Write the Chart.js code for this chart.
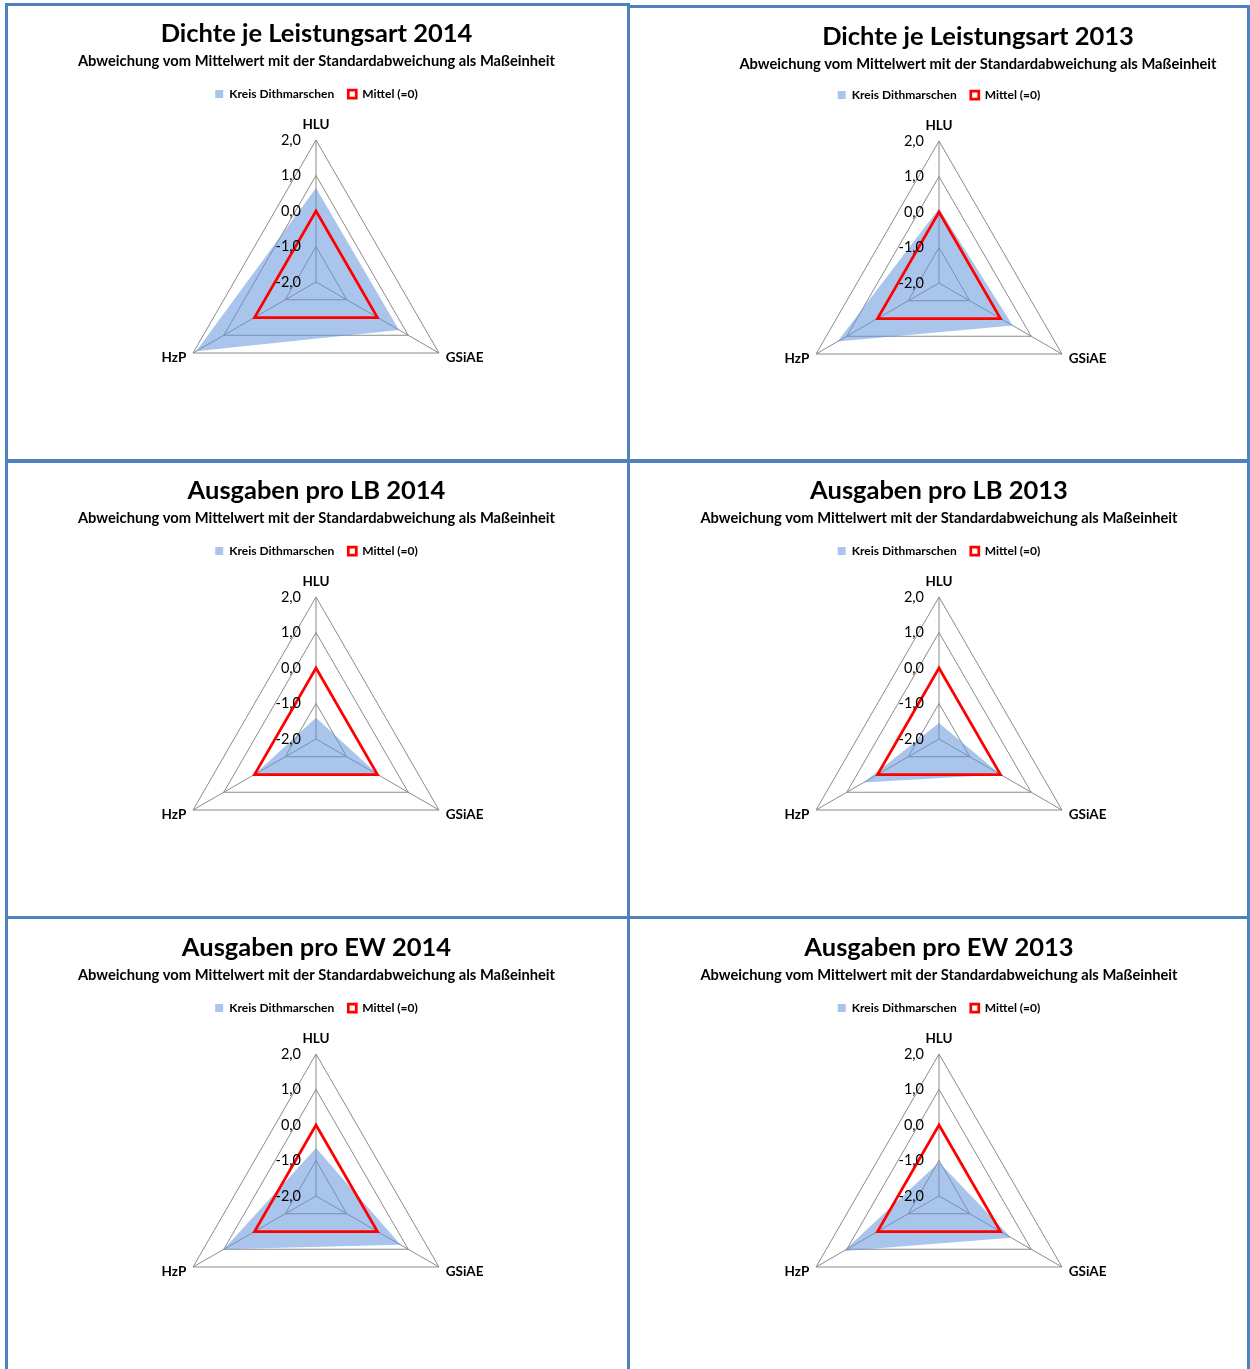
<!DOCTYPE html>
<html>
<head>
<meta charset="utf-8">
<script src="https://cdn.jsdelivr.net/npm/chart.js@4.4.0/dist/chart.umd.min.js"></script>
<style>
  html, body { margin: 0; padding: 0; background: #fff; width: 1250px; height: 1369px; overflow: hidden; }
  .panel { position: absolute; border: 3px solid #4f81bd; box-sizing: border-box; }
  canvas { position: absolute; }
</style>
</head>
<body>
<div class="panel" style="left:5px;top:3px;width:625px;height:460px"></div>
<div class="panel" style="left:5px;top:459px;width:625px;height:460px"></div>
<div class="panel" style="left:5px;top:916px;width:625px;height:500px"></div>
<div class="panel" style="left:627px;top:5px;width:623px;height:458px"></div>
<div class="panel" style="left:627px;top:459px;width:623px;height:460px"></div>
<div class="panel" style="left:627px;top:916px;width:623px;height:500px"></div>

<canvas id="dichte2014" width="617" height="452" style="left:8px;top:6px"></canvas>
<canvas id="dichte2013" width="616" height="452" style="left:631px;top:7px"></canvas>
<canvas id="lb2014" width="617" height="452" style="left:8px;top:463px"></canvas>
<canvas id="lb2013" width="616" height="452" style="left:631px;top:463px"></canvas>
<canvas id="ew2014" width="617" height="452" style="left:8px;top:920px"></canvas>
<canvas id="ew2013" width="616" height="452" style="left:631px;top:920px"></canvas>

<script>
// Axes of every radar (clockwise from the top)
const categories = ['HLU', 'GSiAE', 'HzP'];

// Deviation from the mean, in standard deviations (HLU, GSiAE, HzP)
const dichte2014 = [0.65, 0.70, 1.90];
const dichte2013 = [0.10, 0.40, 1.30];
const lb2014     = [-1.40, 0.05, 0.00];
const lb2013     = [-1.55, 0.00, 0.45];
const ew2014     = [-0.65, 0.75, 1.00];
const ew2013     = [-1.05, 0.35, 1.10];
const mittel     = [0, 0, 0];

// Radial tick values and their German labels
const tickValues = [-2, -1, 0, 1, 2];
const tickLabels = ['-2,0', '-1,0', '0,0', '1,0', '2,0'];

const seriesName = 'Kreis Dithmarschen';
const meanName = 'Mittel (=0)';
const subtitleText = 'Abweichung vom Mittelwert mit der Standardabweichung als Maßeinheit';

Chart.defaults.font.family = 'Lato';
Chart.defaults.color = '#000';

// Tick labels sit to the left of the vertical axis, right-aligned
const tickLabelsLeft = {
  id: 'tickLabelsLeft',
  afterDatasetsDraw(chart) {
    const s = chart.scales.r;
    const ctx = chart.ctx;
    ctx.save();
    ctx.font = '14.5px Lato';
    ctx.fillStyle = '#000';
    ctx.textAlign = 'right';
    ctx.textBaseline = 'middle';
    tickValues.forEach((v, i) => {
      const d = s.getDistanceFromCenterForValue(v);
      ctx.fillText(tickLabels[i], s.xCenter - 15, s.yCenter - d);
    });
    ctx.restore();
  }
};

// Optional horizontal offset for the title and subtitle blocks
const titleShift = {
  id: 'titleShift',
  afterLayout(chart, args, opts) {
    const dx = (opts && opts.dx) || 0;
    if (!dx) return;
    chart.boxes.forEach(b => {
      if (b.options && typeof b.options.text !== 'undefined' && !b.options.labels) {
        b.left += dx;
        b.right += dx;
      }
    });
  }
};

function makeRadar(id, title, values, extra) {
  extra = extra || {};
  const titleTop = 12.7 + (extra.titleTop || 0);
  const subBottom = 4.16 + (extra.subBottom || 0);
  new Chart(document.getElementById(id), {
    type: 'radar',
    data: {
      labels: categories,
      datasets: [
        {
          label: seriesName,
          data: values,
          backgroundColor: 'rgba(100,150,220,0.55)',
          borderWidth: 0,
          fill: 'start',
          pointRadius: 0,
          order: 1
        },
        {
          label: meanName,
          data: mittel,
          borderColor: '#ff0000',
          backgroundColor: '#ffffff',
          borderWidth: 2.75,
          fill: false,
          pointRadius: 0,
          order: 0
        }
      ]
    },
    options: {
      responsive: false,
      animation: false,
      devicePixelRatio: 1,
      layout: { padding: { bottom: 23.5 } },
      plugins: {
        title: {
          display: true,
          text: title,
          font: { size: 25.5, weight: 'bold' },
          color: '#000',
          padding: { top: titleTop, bottom: 2 }
        },
        subtitle: {
          display: true,
          text: subtitleText,
          font: { size: 14.7, weight: 'bold' },
          color: '#000',
          padding: { top: 0.9, bottom: subBottom }
        },
        legend: {
          position: 'top',
          labels: {
            boxWidth: 8,
            boxHeight: 8,
            padding: 14,
            font: { size: 12, weight: 'bold' },
            color: '#000',
            sort: (a, b) => a.datasetIndex - b.datasetIndex
          }
        },
        tooltip: { enabled: false },
        titleShift: { dx: extra.dx || 0 }
      },
      scales: {
        r: {
          min: -2,
          max: 2,
          ticks: { stepSize: 1, display: false },
          grid: { color: '#8a8a8a', lineWidth: 1 },
          angleLines: { color: '#8a8a8a', lineWidth: 1 },
          pointLabels: {
            font: (c) => ({ size: 13.5, weight: 'bold', lineHeight: c.index === 0 ? 0.7 : 0.16 }),
            color: '#000',
            padding: (c) => (c.index === 0 ? 10.55 : 7.8)
          }
        }
      }
    },
    plugins: [tickLabelsLeft, titleShift]
  });
}

makeRadar('dichte2014', 'Dichte je Leistungsart 2014', dichte2014);
makeRadar('dichte2013', 'Dichte je Leistungsart 2013', dichte2013, { dx: 39, titleTop: 2, subBottom: -2 });
makeRadar('lb2014', 'Ausgaben pro LB 2014', lb2014);
makeRadar('lb2013', 'Ausgaben pro LB 2013', lb2013);
makeRadar('ew2014', 'Ausgaben pro EW 2014', ew2014);
makeRadar('ew2013', 'Ausgaben pro EW 2013', ew2013);
</script>
</body>
</html>
